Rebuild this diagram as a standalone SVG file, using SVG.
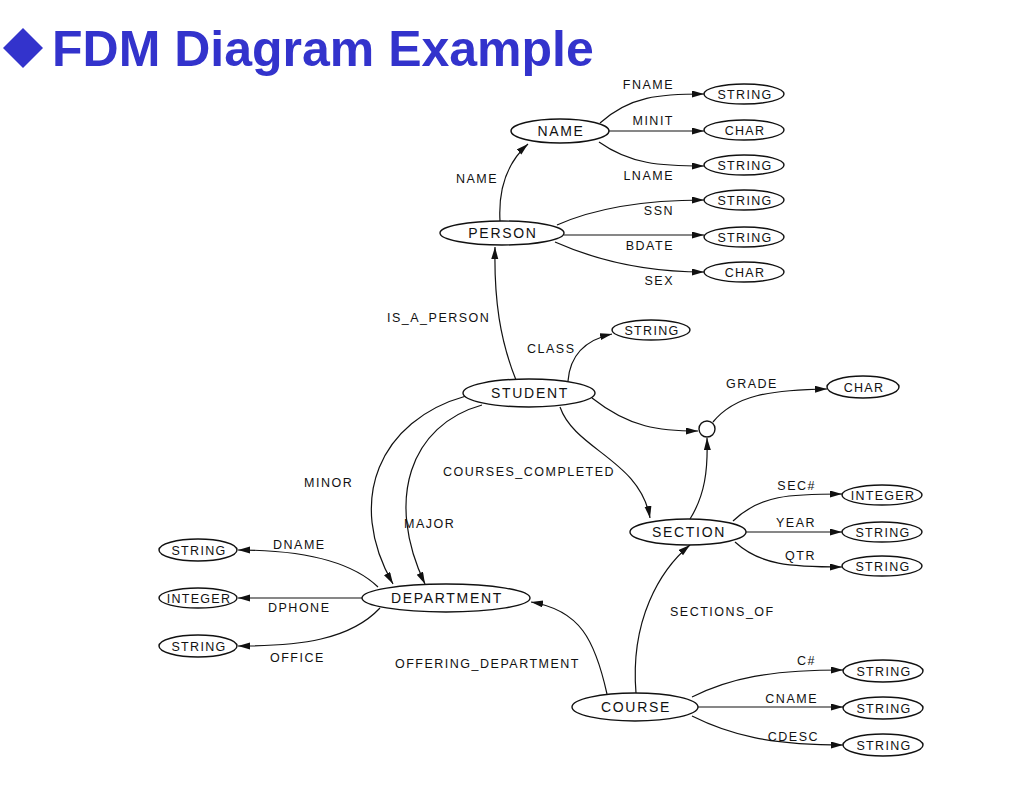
<svg xmlns="http://www.w3.org/2000/svg" width="1009" height="792" viewBox="0 0 1009 792">
<style>
.bg{fill:#ffffff}
.title{font-family:"Liberation Sans",Arial,sans-serif;font-weight:bold;font-size:50px;fill:#3333cc}
.node ellipse,.node circle{fill:#ffffff;stroke:#111;stroke-width:1.4}
.big{font-family:"Liberation Sans",Arial,sans-serif;font-size:14px;letter-spacing:1.7px;fill:#111;text-anchor:middle}
.typ{font-family:"Liberation Sans",Arial,sans-serif;font-size:12.5px;letter-spacing:1.3px;fill:#111;text-anchor:middle}
.lbl{font-family:"Liberation Sans",Arial,sans-serif;font-size:12.5px;letter-spacing:1.5px;fill:#111}
.e{fill:#111;text-anchor:end}
.conn path{fill:none;stroke:#111;stroke-width:1.2;marker-end:url(#ah)}
</style>
<defs>
<marker id="ah" markerUnits="userSpaceOnUse" markerWidth="13" markerHeight="8" refX="12" refY="3.5" orient="auto">
<path d="M0,0 L12,3.5 L0,7 z" fill="#111"/>
</marker>
</defs>
<rect class="bg" x="0" y="0" width="1009" height="792"/>
<g id="title">
<polygon points="23,28 43,48 23,68 3,48" fill="#3333cc"/>
<text class="title" x="52" y="66">FDM Diagram Example</text>
</g>
<g id="connectors" class="conn">
<path d="M500,221 C498,185 510,160 528,144"/>
<path d="M600,123 C630,96 660,94 704,94"/>
<path d="M609,131 L704,131"/>
<path d="M599,142 C630,164 660,166 704,166"/>
<path d="M557,225 C600,206 650,200 704,200"/>
<path d="M564,235 L704,235"/>
<path d="M555,242 C600,262 650,272 704,272"/>
<path d="M516,380 C500,340 494,300 495,247"/>
<path d="M568,381 C570,355 585,340 612,334"/>
<path d="M592,398 C630,428 660,431 698,431"/>
<path d="M713,422 C735,395 770,390 827,389"/>
<path d="M690,519 C705,495 708,470 707,438"/>
<path d="M560,407 C575,450 640,460 650,518"/>
<path d="M466,396 C380,420 345,500 393,584"/>
<path d="M482,405 C410,425 385,500 425,584"/>
<path d="M378,587 C350,560 300,550 238,550"/>
<path d="M362,598 L238,598"/>
<path d="M380,608 C350,640 300,646 238,646"/>
<path d="M607,694 C595,640 580,610 531,602"/>
<path d="M733,521 C760,495 790,494 842,494"/>
<path d="M746,532 L842,532"/>
<path d="M735,542 C760,565 790,567 842,567"/>
<path d="M636,693 C630,620 660,570 690,545"/>
<path d="M692,697 C730,678 770,670 843,670"/>
<path d="M698,707 L843,707"/>
<path d="M692,716 C730,735 770,745 843,745"/>
</g>
<g id="edge-labels" class="lbl">
<text class="e" x="674" y="89">FNAME</text>
<text class="e" x="674" y="125">MINIT</text>
<text class="e" x="674" y="180">LNAME</text>
<text class="e" x="498" y="183">NAME</text>
<text class="e" x="674" y="215">SSN</text>
<text class="e" x="674" y="250">BDATE</text>
<text class="e" x="674" y="285">SEX</text>
<text x="387" y="322">IS_A_PERSON</text>
<text x="527" y="353">CLASS</text>
<text x="726" y="388">GRADE</text>
<text x="443" y="476">COURSES_COMPLETED</text>
<text x="304" y="487">MINOR</text>
<text x="404" y="528">MAJOR</text>
<text x="273" y="549">DNAME</text>
<text x="268" y="612">DPHONE</text>
<text x="270" y="662">OFFICE</text>
<text x="395" y="668">OFFERING_DEPARTMENT</text>
<text class="e" x="816" y="490">SEC#</text>
<text class="e" x="816" y="527">YEAR</text>
<text class="e" x="816" y="560">QTR</text>
<text x="670" y="616">SECTIONS_OF</text>
<text class="e" x="816" y="665">C#</text>
<text class="e" x="818" y="703">CNAME</text>
<text class="e" x="819" y="741">CDESC</text>
</g>
<g id="name" class="node"><ellipse cx="560" cy="131" rx="49" ry="12"/><text class="big" x="561" y="136">NAME</text></g>
<g id="fname-string" class="node"><ellipse cx="744" cy="94" rx="40" ry="10"/><text class="typ" x="745" y="99">STRING</text></g>
<g id="minit-char" class="node"><ellipse cx="744" cy="130" rx="40" ry="10"/><text class="typ" x="745" y="135">CHAR</text></g>
<g id="lname-string" class="node"><ellipse cx="744" cy="165" rx="40" ry="10"/><text class="typ" x="745" y="170">STRING</text></g>
<g id="ssn-string" class="node"><ellipse cx="744" cy="200" rx="40" ry="10"/><text class="typ" x="745" y="205">STRING</text></g>
<g id="bdate-string" class="node"><ellipse cx="744" cy="237" rx="40" ry="10"/><text class="typ" x="745" y="242">STRING</text></g>
<g id="sex-char" class="node"><ellipse cx="744" cy="272" rx="40" ry="10"/><text class="typ" x="745" y="277">CHAR</text></g>
<g id="person" class="node"><ellipse cx="502" cy="233" rx="62" ry="12"/><text class="big" x="503" y="238">PERSON</text></g>
<g id="class-string" class="node"><ellipse cx="651" cy="330" rx="39" ry="10"/><text class="typ" x="652" y="335">STRING</text></g>
<g id="student" class="node"><ellipse cx="529" cy="393" rx="66" ry="14"/><text class="big" x="530" y="398">STUDENT</text></g>
<g id="grade-junction" class="node"><circle cx="707" cy="429" r="8"/></g>
<g id="grade-char" class="node"><ellipse cx="863" cy="387" rx="36" ry="11"/><text class="typ" x="864" y="392">CHAR</text></g>
<g id="section" class="node"><ellipse cx="688" cy="532" rx="58" ry="13"/><text class="big" x="689" y="537">SECTION</text></g>
<g id="sec-integer" class="node"><ellipse cx="882" cy="495" rx="40" ry="10"/><text class="typ" x="883" y="500">INTEGER</text></g>
<g id="year-string" class="node"><ellipse cx="882" cy="532" rx="40" ry="10"/><text class="typ" x="883" y="537">STRING</text></g>
<g id="qtr-string" class="node"><ellipse cx="882" cy="566" rx="40" ry="10"/><text class="typ" x="883" y="571">STRING</text></g>
<g id="department" class="node"><ellipse cx="446" cy="598" rx="84" ry="14"/><text class="big" x="447" y="603">DEPARTMENT</text></g>
<g id="dname-string" class="node"><ellipse cx="198" cy="550" rx="39" ry="11"/><text class="typ" x="199" y="555">STRING</text></g>
<g id="dphone-integer" class="node"><ellipse cx="198" cy="598" rx="39" ry="10"/><text class="typ" x="199" y="603">INTEGER</text></g>
<g id="office-string" class="node"><ellipse cx="198" cy="646" rx="39" ry="11"/><text class="typ" x="199" y="651">STRING</text></g>
<g id="course" class="node"><ellipse cx="635" cy="707" rx="63" ry="14"/><text class="big" x="636" y="712">COURSE</text></g>
<g id="cnum-string" class="node"><ellipse cx="883" cy="671" rx="40" ry="11"/><text class="typ" x="884" y="676">STRING</text></g>
<g id="cname-string" class="node"><ellipse cx="883" cy="708" rx="40" ry="11"/><text class="typ" x="884" y="713">STRING</text></g>
<g id="cdesc-string" class="node"><ellipse cx="883" cy="745" rx="40" ry="11"/><text class="typ" x="884" y="750">STRING</text></g>
</svg>
